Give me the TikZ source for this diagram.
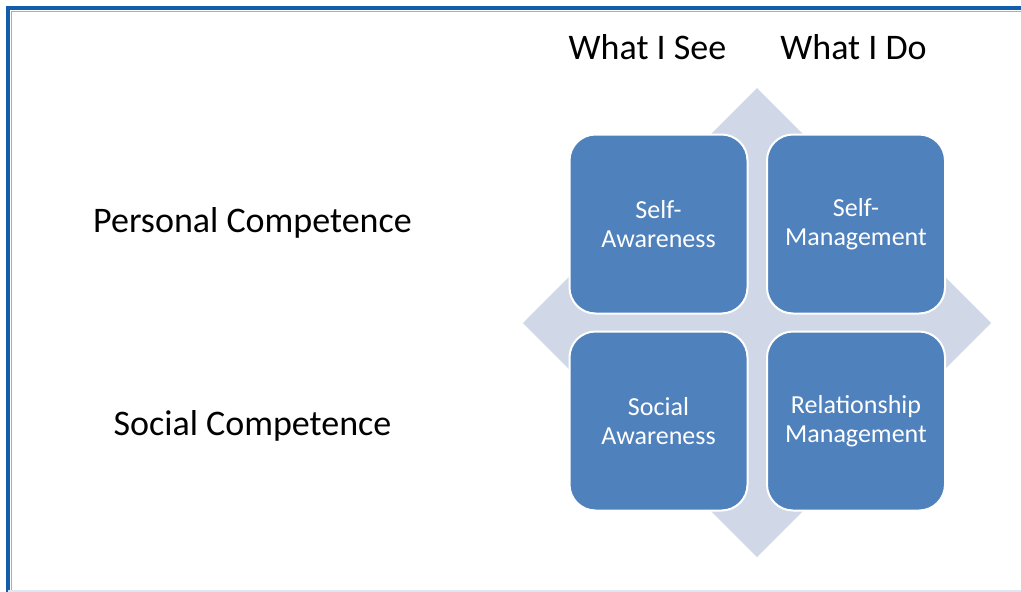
\documentclass[tikz,border=0pt]{standalone}
\usepackage{fontspec}
\setmainfont{Carlito}
\definecolor{boxblue}{RGB}{79,129,189}
\definecolor{diamondgray}{RGB}{208,216,232}
\definecolor{framblue}{RGB}{18,94,170}
\definecolor{framlight}{RGB}{140,180,225}
\definecolor{bottomline}{RGB}{222,232,244}
\tikzset{
  quad/.style={rectangle, rounded corners=26pt, minimum width=178pt, minimum height=179pt,
    fill=boxblue, draw=white, line width=2pt, text=white, align=center,
    font=\fontsize{26}{29}\selectfont, inner sep=0pt},
  lbl/.style={anchor=base, text=black, font=\fontsize{36}{40}\selectfont, inner sep=0pt}
}
\begin{document}
\begin{tikzpicture}[x=1pt,y=-1pt]
\useasboundingbox (0,0) rectangle (1021,592);
\fill[white] (0,0) rectangle (1021,592);
% frame
\draw[framlight, line width=1pt] (11,592) -- (11,11) -- (1021,11);
\draw[framblue, line width=4pt] (8,592) -- (8,8) -- (1021,8);
\draw[bottomline, line width=2pt] (8,591) -- (1021,591);
% diamond background
\fill[diamondgray] (757,88) -- (991,323) -- (757,557) -- (523,323) -- cycle;
% quadrants
\node[quad] (sa) at (658.5,224) {Self-\\Awareness};
\node[quad] (sm) at (856,224) {Self-\\Management};
\node[quad] (soa) at (658.5,421) {Social\\Awareness};
\node[quad] (rm) at (856,421) {Relationship\\Management};
% labels
\node[lbl] (see) at (647.5,59) {What I See};
\node[lbl] (do) at (853.5,59) {What I Do};
\node[lbl] (pc) at (252.5,232) {Personal Competence};
\node[lbl] (sc) at (252.5,435) {Social Competence};
\end{tikzpicture}
\end{document}
